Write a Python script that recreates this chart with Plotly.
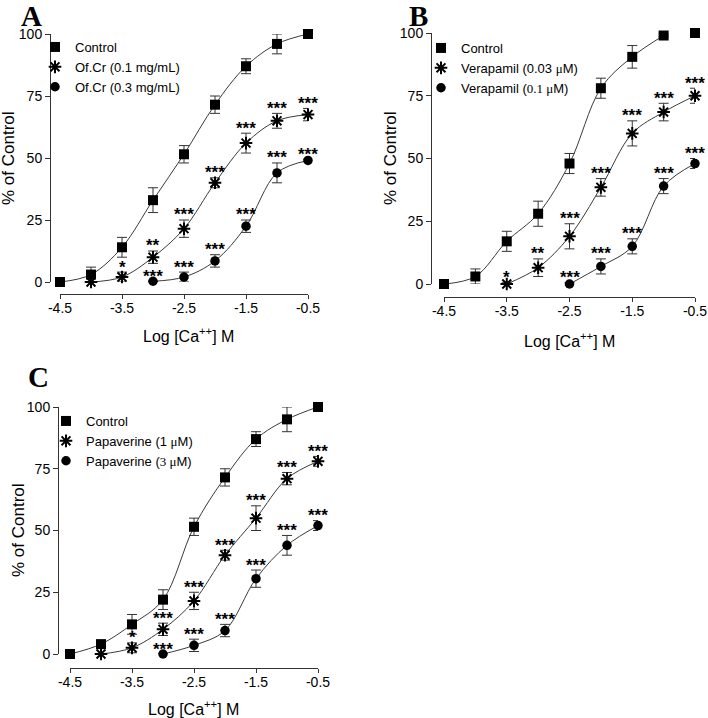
import plotly.graph_objects as go

W, H = 708, 718

# ---------------- data ----------------
x_all = [-4.5, -4.0, -3.5, -3.0, -2.5, -2.0, -1.5, -1.0, -0.5]
x_tickvals = [-4.5, -3.5, -2.5, -1.5, -0.5]
x_ticktext = ["-4.5", "-3.5", "-2.5", "-1.5", "-0.5"]
y_tickvals = [0, 25, 50, 75, 100]
y_ticktext = ["0", "25", "50", "75", "100"]
x_title = "Log [Ca<sup>++</sup>] M"
y_title = "% of Control"

# Panel A
a_names = ["Control", "Of.Cr (0.1 mg/mL)", "Of.Cr (0.3 mg/mL)"]
a_x0 = x_all
a_y0 = [0, 3, 14, 33, 51.5, 71.5, 87, 96, 100]
a_e0 = [0, 3, 4, 5, 3.5, 3.5, 3, 4, 0.5]
a_s0 = ["", "", "", "", "", "", "", "", ""]
a_x1 = [-4.0, -3.5, -3.0, -2.5, -2.0, -1.5, -1.0, -0.5]
a_y1 = [0, 2, 10, 21.5, 40, 56, 65, 67.5]
a_e1 = [0, 2, 2.5, 3.5, 2, 4, 3, 2.5]
a_s1 = ["", "*", "**", "***", "***", "***", "***", "***"]
a_x2 = [-3.0, -2.5, -2.0, -1.5, -1.0, -0.5]
a_y2 = [0.3, 2, 8.5, 22.5, 44, 49]
a_e2 = [0, 2, 2.5, 2.5, 4, 0.5]
a_s2 = ["***", "***", "***", "***", "***", "***"]

# Panel B
b_names = ["Control", "Verapamil (0.03 <span style='font-family:Liberation Serif'>μ</span>M)",
           "Verapamil (<span style='font-family:Liberation Serif'>0.1 μ</span>M)"]
b_x0 = x_all
b_y0 = [0, 3, 17, 28, 48, 78, 90.5, 99, 100]
b_e0 = [0, 3, 4, 5, 4, 4, 4.5, 0.5, 0]
b_s0 = ["", "", "", "", "", "", "", "", ""]
b_x1 = [-3.5, -3.0, -2.5, -2.0, -1.5, -1.0, -0.5]
b_y1 = [0, 6.5, 19, 38.5, 60, 68.5, 75]
b_e1 = [0.5, 3.5, 5, 3.5, 5, 3.5, 3]
b_s1 = ["*", "**", "***", "***", "***", "***", "***"]
b_x2 = [-2.5, -2.0, -1.5, -1.0, -0.5]
b_y2 = [0, 7, 15, 39, 48]
b_e2 = [0.5, 3, 3, 3, 2]
b_s2 = ["***", "***", "***", "***", "***"]

# Panel C
c_names = ["Control", "Papaverine (1 <span style='font-family:Liberation Serif'>μ</span>M)",
           "Papaverine (<span style='font-family:Liberation Serif'>3 μ</span>M)"]
c_x0 = x_all
c_y0 = [0, 4, 12, 22, 51.5, 71.5, 87, 95, 100]
c_e0 = [0, 1, 4, 4, 3.5, 3.5, 3, 5, 0]
c_s0 = ["", "", "", "", "", "", "", "", ""]
c_x1 = [-4.0, -3.5, -3.0, -2.5, -2.0, -1.5, -1.0, -0.5]
c_y1 = [0, 2.5, 10, 21.5, 40, 55, 71, 78]
c_e1 = [0, 2, 2.5, 3.5, 2, 5, 2.5, 2]
c_s1 = ["", "*", "***", "***", "***", "***", "***", "***"]
c_x2 = [-3.0, -2.5, -2.0, -1.5, -1.0, -0.5]
c_y2 = [0, 3.5, 9.5, 30.5, 44, 52]
c_e2 = [0, 2.5, 2.5, 3.5, 4, 2]
c_s2 = ["***", "***", "***", "***", "***", "***"]

panel_letters = ["A", "B", "C"]

# ---------------- styling / layout helpers ----------------
FONT = "Liberation Sans, Arial, sans-serif"
symbols = ["square", "asterisk-open", "circle"]
sizes = [10, 10.5, 9.5]

def px_x(p):
    return p / W

def px_y(p):
    return 1 - p / H

panels = [
    dict(xd=(60, 308), yd=(282, 34), xline=294, yline=50, lx=35, ly=32,
         letter=(31, 16), ytitle=(8, 158), xtitle=(188, 335), curve_drop=[0, 0, 0]),
    dict(xd=(444, 695), yd=(284, 33), xline=297, yline=431, lx=421, ly=33,
         letter=(418, 16), ytitle=(390, 158), xtitle=(569, 340), curve_drop=[1, 0, 0]),
    dict(xd=(70, 318), yd=(654, 407), xline=668, yline=58, lx=46, ly=406,
         letter=(38, 377), ytitle=(18, 530), xtitle=(193, 708), curve_drop=[0, 0, 0]),
]

series = [
    [(a_x0, a_y0, a_e0, a_s0, a_names[0]), (a_x1, a_y1, a_e1, a_s1, a_names[1]), (a_x2, a_y2, a_e2, a_s2, a_names[2])],
    [(b_x0, b_y0, b_e0, b_s0, b_names[0]), (b_x1, b_y1, b_e1, b_s1, b_names[1]), (b_x2, b_y2, b_e2, b_s2, b_names[2])],
    [(c_x0, c_y0, c_e0, c_s0, c_names[0]), (c_x1, c_y1, c_e1, c_s1, c_names[1]), (c_x2, c_y2, c_e2, c_s2, c_names[2])],
]

fig = go.Figure()
annotations = []
layout = {}

for pi, (pan, ser) in enumerate(zip(panels, series)):
    suffix = "" if pi == 0 else str(pi + 1)
    xa, ya = "x" + suffix, "y" + suffix
    leg = "legend" + suffix
    for si, (xs, ys, es, ss, name) in enumerate(ser):
        n = len(xs) - pan["curve_drop"][si]
        fig.add_trace(go.Scatter(
            x=xs[:n], y=ys[:n], mode="lines",
            line=dict(color="#3a3a3a", width=1, shape="spline", smoothing=1.0),
            showlegend=False, hoverinfo="skip", xaxis=xa, yaxis=ya))
        fig.add_trace(go.Scatter(
            x=xs, y=ys, mode="markers", name=name, legend=leg,
            marker=dict(symbol=symbols[si], size=sizes[si], color="black",
                        line=dict(color="black", width=2 if si == 1 else 0)),
            error_y=dict(type="data", array=es, visible=True, color="#333333", thickness=1, width=5),
            cliponaxis=False, xaxis=xa, yaxis=ya))
        for x, y, e, s in zip(xs, ys, es, ss):
            if s:
                annotations.append(dict(
                    x=x, y=y + e, xref=xa, yref=ya, text="<b>" + s + "</b>", showarrow=False,
                    xanchor="center", yanchor="middle", yshift=5,
                    font=dict(family=FONT, size=17, color="black")))
    layout["xaxis" + suffix] = dict(
        domain=[px_x(pan["xd"][0]), px_x(pan["xd"][1])], range=[-4.5, -0.5],
        anchor="free", position=px_y(pan["xline"]), automargin=False,
        tickmode="array", tickvals=x_tickvals, ticktext=x_ticktext,
        showline=True, linecolor="#333333", linewidth=1, ticks="outside", ticklen=4,
        ticklabelstandoff=-3,
        tickcolor="#333333", tickfont=dict(family=FONT, size=14, color="black"),
        showgrid=False, zeroline=False)
    layout["yaxis" + suffix] = dict(
        domain=[px_y(pan["yd"][0]), px_y(pan["yd"][1])], range=[0, 100],
        anchor="free", position=px_x(pan["yline"]), automargin=False,
        tickmode="array", tickvals=y_tickvals, ticktext=y_ticktext,
        showline=True, linecolor="#333333", linewidth=1, ticks="outside", ticklen=5,
        tickcolor="#333333", tickfont=dict(family=FONT, size=14, color="black"),
        showgrid=False, zeroline=False)
    layout[leg] = dict(
        x=px_x(pan["lx"]), y=px_y(pan["ly"]), xanchor="left", yanchor="top",
        bgcolor="rgba(0,0,0,0)", borderwidth=0, tracegroupgap=0,
        font=dict(family=FONT, size=13, color="black"), itemwidth=30)
    annotations.append(dict(
        x=px_x(pan["letter"][0]), y=px_y(pan["letter"][1]), xref="paper", yref="paper",
        text="<b>" + panel_letters[pi] + "</b>", showarrow=False, xanchor="center", yanchor="middle",
        font=dict(family="Liberation Serif, Times New Roman, serif", size=29, color="black")))
    annotations.append(dict(
        x=px_x(pan["ytitle"][0]), y=px_y(pan["ytitle"][1]), xref="paper", yref="paper",
        text=y_title, textangle=-90, showarrow=False, xanchor="center", yanchor="middle",
        font=dict(family=FONT, size=17, color="black")))
    annotations.append(dict(
        x=px_x(pan["xtitle"][0]), y=px_y(pan["xtitle"][1]), xref="paper", yref="paper",
        text=x_title, showarrow=False, xanchor="center", yanchor="middle",
        font=dict(family=FONT, size=16, color="black")))

fig.update_layout(
    width=W, height=H, autosize=False,
    margin=dict(l=0, r=0, t=0, b=0, autoexpand=False),
    paper_bgcolor="white", plot_bgcolor="white",
    annotations=annotations, **layout)

fig.write_html("out.html")
